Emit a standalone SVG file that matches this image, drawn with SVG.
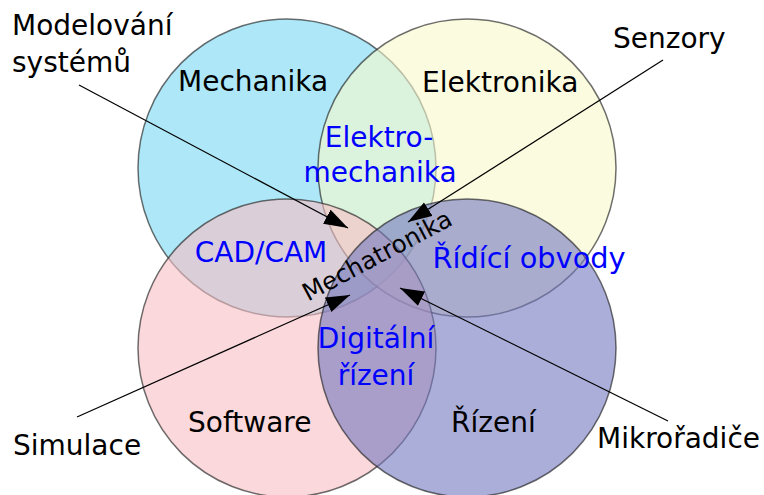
<svg xmlns="http://www.w3.org/2000/svg" width="764" height="495" viewBox="0 0 764 495">
  <style>
    .c { fill-opacity: 0.6; stroke: #222; stroke-opacity: 0.65; stroke-width: 1.5; }
    text { font-family: "DejaVu Sans", "Liberation Sans", sans-serif; font-size: 28px; fill: #000; }
    .area { fill: #0000ff; text-anchor: middle; }
    .mid { text-anchor: middle; }
    .conn line { stroke: #000; stroke-width: 1.2; }
  </style>
  <defs>
    <marker id="head" markerUnits="userSpaceOnUse" markerWidth="26" markerHeight="18" refX="24" refY="8" orient="auto">
      <path d="M0,0 L24,8 L0,16 z" fill="#000"/>
    </marker>
  </defs>
  <rect width="764" height="495" fill="#fff"/>

  <!-- four overlapping disciplines -->
  <g id="mechanika">
    <circle class="c" cx="287" cy="168" r="149" fill="#78d9f3"/>
  </g>
  <g id="elektronika">
    <circle class="c" cx="467" cy="168" r="149" fill="#f8f8cb"/>
  </g>
  <g id="software">
    <circle class="c" cx="287" cy="348" r="149" fill="#f7bec3"/>
  </g>
  <g id="rizeni">
    <circle class="c" cx="467" cy="348" r="149" fill="#7378be"/>
  </g>

  <!-- circle titles -->
  <g id="labels">
    <text x="178" y="91">Mechanika</text>
    <text x="422" y="92">Elektronika</text>
    <text x="188" y="432">Software</text>
    <text x="451" y="432">Řízení</text>
  </g>

  <!-- overlap areas -->
  <g id="elektromechanika">
    <text class="area" x="379" y="147">Elektro-</text>
    <text class="area" x="380" y="182">mechanika</text>
  </g>
  <g id="cadcam">
    <text class="area" x="261" y="262">CAD/CAM</text>
  </g>
  <g id="ridici-obvody">
    <text class="area" x="529" y="268" style="font-size:28.8px">Řídící obvody</text>
  </g>
  <g id="digitalni-rizeni">
    <text class="area" x="376" y="348">Digitální</text>
    <text class="area" x="376" y="385">řízení</text>
  </g>
  <g id="mechatronika">
    <text class="mid" x="381" y="263" transform="rotate(-28 381 263)" style="font-size:24.5px">Mechatronika</text>
  </g>

  <!-- outer terms -->
  <g id="modelovani">
    <text x="12" y="35">Modelování</text>
    <text x="12" y="72">systémů</text>
  </g>
  <g id="senzory">
    <text x="613" y="48">Senzory</text>
  </g>
  <g id="simulace">
    <text x="13" y="455">Simulace</text>
  </g>
  <g id="mikroradice">
    <text x="597" y="448">Mikrořadiče</text>
  </g>

  <g id="connectors" class="conn">
    <line x1="79" y1="85" x2="348" y2="228" marker-end="url(#head)"/>
    <line x1="663" y1="60" x2="408" y2="222" marker-end="url(#head)"/>
    <line x1="77" y1="417" x2="350" y2="295" marker-end="url(#head)"/>
    <line x1="668" y1="421" x2="400" y2="288" marker-end="url(#head)"/>
  </g>
</svg>
